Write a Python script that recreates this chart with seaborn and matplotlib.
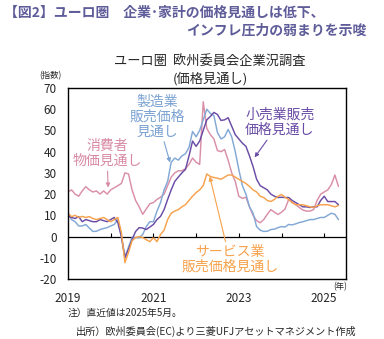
import numpy as np
import pandas as pd
import matplotlib
matplotlib.use("Agg")
import matplotlib.pyplot as plt
import seaborn as sns

# Monthly survey values, Jan 2019 - May 2025
start_year = 2019
consumer = [21, 22, 20, 19, 21.5, 23.5, 22, 21, 21.5, 20, 21.5, 20,
            22, 23, 24, 25, 30, 29.5, 22, 17, 14, 10.5, 13, 15.5,
            16, 17.5, 18.5, 20, 24, 28, 30, 31, 31, 32, 34, 37,
            35, 34, 63.5, 51, 48, 46, 40.5, 40, 41, 36, 30, 26,
            19, 18, 18.5, 14, 10, 7.5, 6.5, 8, 10.5, 12.7, 11.5, 10.4,
            11.5, 13, 17.5, 16, 15, 13.7, 12.5, 12, 12, 12.7, 17, 20,
            21, 22, 24.5, 29, 23.6]
manufacturing = [11, 8, 7, 5, 5, 5.7, 4, 2.4, 2.5, 3.3, 3.8, 4.2,
                 5, 5.7, 8, 0, -9.5, -5, -0.5, -0.5, -0.5, 1, 4.7, 7,
                 7, 12, 16, 22, 26, 35, 37, 36, 38, 39, 42, 49.5,
                 47, 50, 55, 60, 58, 57, 49, 46, 47, 50.5, 47, 40,
                 31.6, 24, 20, 14, 11, 4.7, 3, 2.4, 2.5, 3.3, 3.5, 4.2,
                 4.7, 4.5, 5.7, 5.5, 6, 6.6, 7, 7.5, 8, 8, 8.5, 9,
                 9, 10, 11, 10.5, 8]
retail = [9.5, 9, 8.5, 9.4, 7, 8, 7.5, 7, 7, 8, 7.5, 7,
          8, 9, 6.6, 0, -10, -6, -1.4, 2.4, 4.2, 4, 3.3, 4.5,
          5.7, 8, 9.5, 12.7, 17.5, 22, 26, 28, 30, 31.6, 38, 45,
          42.5, 45, 50, 55, 56.6, 58.5, 57.5, 54.7, 55, 56, 52, 48,
          46, 44, 42.5, 38, 33, 27, 24, 23, 22, 20, 19, 18.4,
          18.5, 18.4, 18.4, 17, 16, 15, 14, 14, 13.7, 14, 14, 17,
          19, 16.5, 16.5, 16.5, 15]
services = [11, 9.4, 10, 9, 9.5, 9, 9.4, 8.5, 8, 8.5, 9, 8,
            7, 8, 9, 2, -12.3, -7.5, -2, -0.5, 0, -0.5, -1.5, -2.4,
            -0.5, -2.4, 1, 3, 8, 11, 12, 12.7, 14, 15, 17, 19,
            20.7, 22, 24, 29.5, 28.3, 27.8, 27.5, 27, 28, 29, 29, 28,
            27, 26, 25, 23.6, 22, 21, 19, 18.4, 17, 16.5, 17.5, 19,
            19.8, 18.5, 17.5, 16, 15, 15, 15, 14.5, 14, 13.7, 14.5, 15,
            15, 15, 14.5, 14, 14.6]

series_names = ["消費者物価見通し", "製造業販売価格見通し", "小売業販売価格見通し", "サービス業販売価格見通し"]
series_colors = ["#D98FA8", "#82A8D6", "#6A4CA6", "#F7A24C"]
year_ticks = [2019, 2021, 2023, 2025]
y_ticks = [-20, -10, 0, 10, 20, 30, 40, 50, 60, 70]

n = len(consumer)
t = start_year + np.arange(n) / 12.0
frames = []
for name, vals in zip(series_names, [consumer, manufacturing, retail, services]):
    frames.append(pd.DataFrame({"t": t, "value": vals, "series": name}))
df = pd.concat(frames, ignore_index=True)

sns.set_style("white")
plt.rcParams["font.family"] = ["Noto Sans CJK JP", "DejaVu Sans"]

W, H = 384, 339
fig = plt.figure(figsize=(W / 100, H / 100), dpi=100)
ax = fig.add_axes([68 / W, 1 - 279 / H, (346 - 68) / W, (279 - 88) / H])

sns.lineplot(data=df, x="t", y="value", hue="series", hue_order=series_names,
             palette=series_colors, linewidth=1.05, legend=False, ax=ax)

ax.set_xlim(2019, 2025.51)
ax.set_ylim(-20, 70)
ax.axhline(0, color="black", lw=0.9, zorder=1)

# year marks sitting on the zero line
ax.vlines(range(2020, 2026), 0, 1.8, color="black", lw=0.8)

ax.set_xticks(year_ticks)
ax.set_xticklabels([str(y) for y in year_ticks], fontsize=8.5)
ax.tick_params(axis="x", length=0, pad=9)
ax.set_yticks(y_ticks)
ax.set_yticklabels([str(v) for v in y_ticks], fontsize=8.5)
ax.tick_params(axis="y", direction="in", length=3, width=0.8, pad=8)
ax.set_xlabel("")
ax.set_ylabel("")
for s in ax.spines.values():
    s.set_color("black")
    s.set_linewidth(1.0)

# series labels with pointer arrows
def label(text, xy, xytext, color):
    ax.annotate(text, xy=xy, xytext=xytext, textcoords="data", color=color,
                fontsize=10, ha="center", va="center", linespacing=1.1,
                arrowprops=dict(arrowstyle="-|>", color=color, lw=0.8,
                                mutation_scale=6, shrinkA=0, shrinkB=0))

label("製造業\n販売価格\n見通し", (2021.39, 34.9), (2021.08, 56.6), "#7BA2D2")
label("消費者\n物価見通し", (2019.94, 23.1), (2019.91, 39.2), "#D88AA5")
label("小売業販売\n価格見通し", (2023.37, 37.3), (2023.96, 53.8), "#6A4CA6")
label("サービス業\n販売価格見通し", (2022.32, 28.3), (2022.79, -10.8), "#F7A24C")

def ftext(px, py, s, **kw):
    fig.text(px / W, 1 - py / H, s, **kw)

title_color = "#5E5C99"
ftext(4, 13, "【図2】ユーロ圏　企業･家計の価格見通しは低下、", fontsize=10, fontweight="bold",
      color=title_color, va="center", ha="left")
ftext(367, 31, "インフレ圧力の弱まりを示唆", fontsize=10, fontweight="bold",
      color=title_color, va="center", ha="right")
ftext(210, 62, "ユーロ圏  欧州委員会企業況調査", fontsize=9.5, va="center", ha="center")
ftext(210, 79, "(価格見通し)", fontsize=9.5, va="center", ha="center")
ftext(50, 76, "(指数)", fontsize=6, va="center", ha="center")
ftext(340, 287, "(年)", fontsize=6, va="center", ha="center")
ftext(68, 313, "注）直近値は2025年5月。", fontsize=7, va="center", ha="left")
ftext(76, 331, "出所）欧州委員会(EC)より三菱UFJアセットマネジメント作成", fontsize=7.3, va="center", ha="left")

fig.savefig("out.png", dpi=100)
